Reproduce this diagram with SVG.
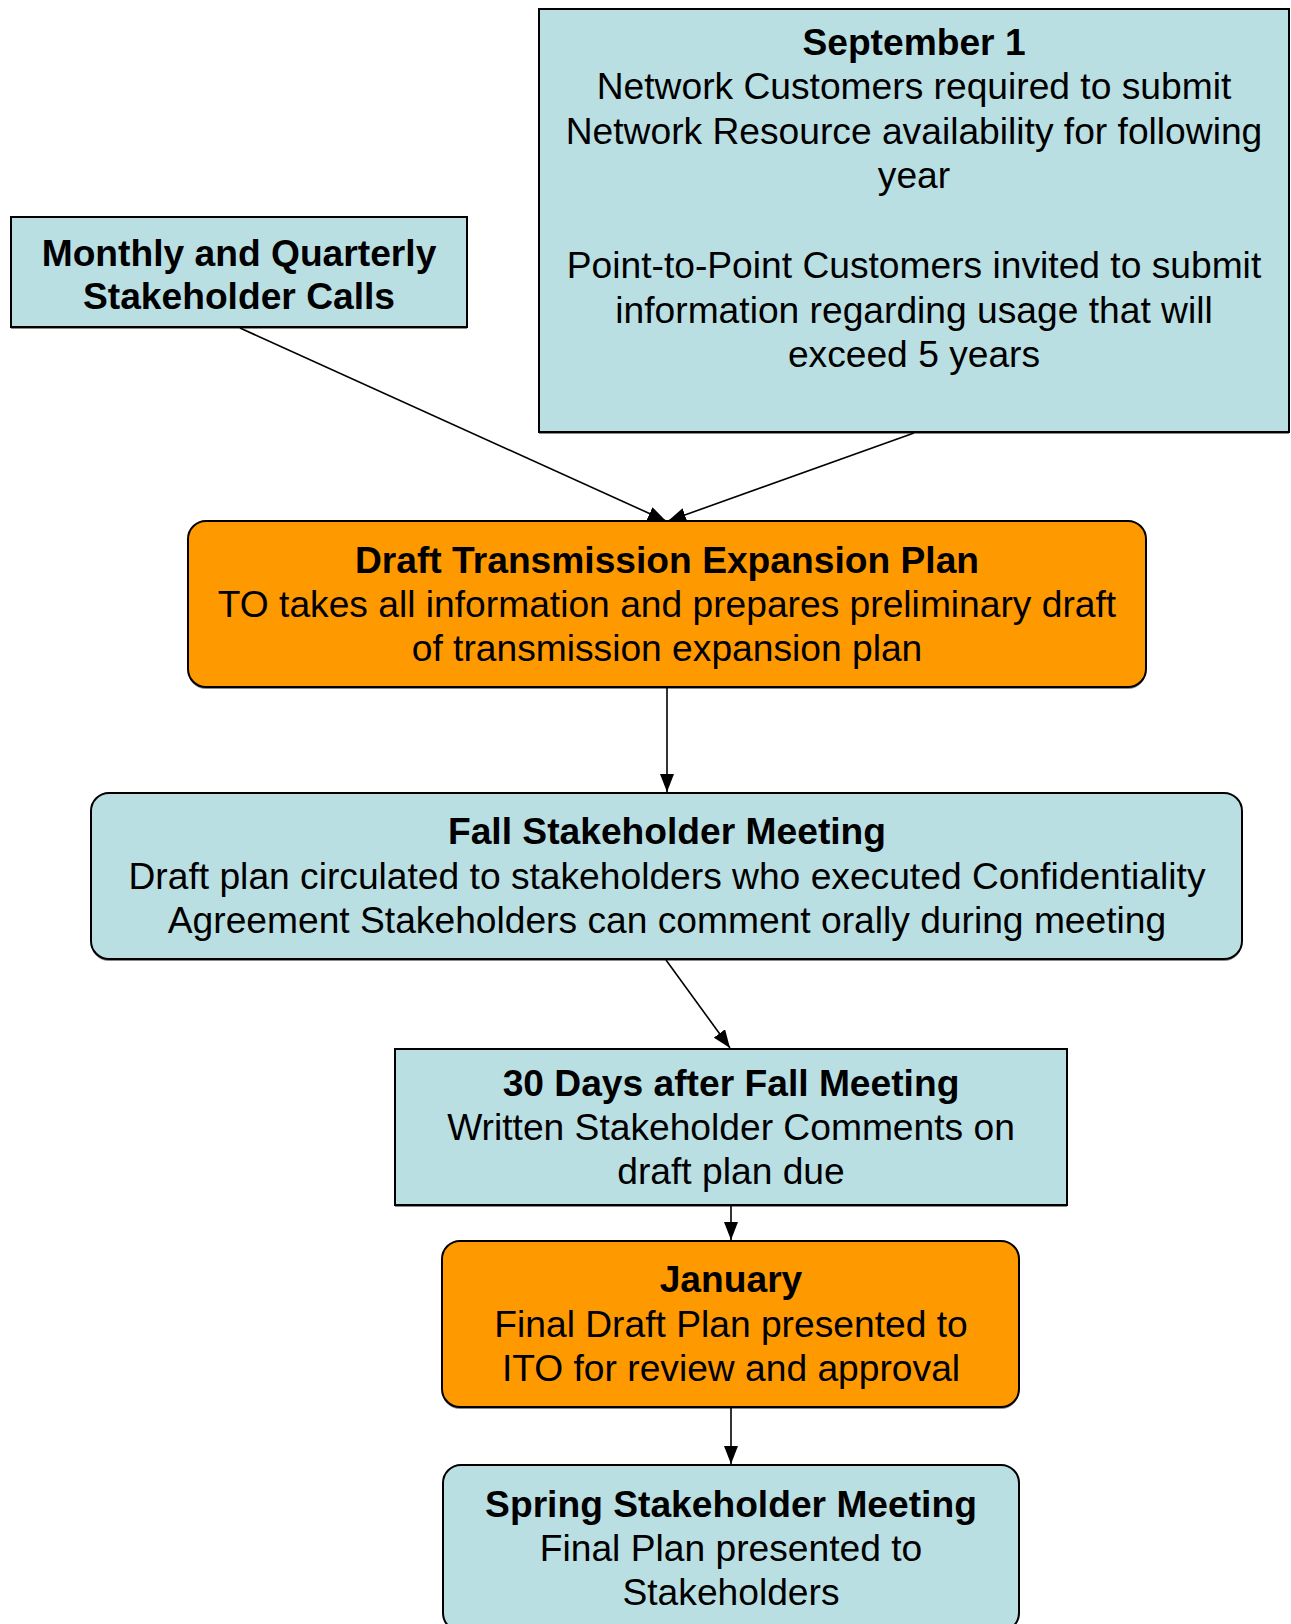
<svg xmlns="http://www.w3.org/2000/svg" width="1291" height="1624" viewBox="0 0 1291 1624">
  <style>
    .blue { fill: #BADFE3; stroke: #000; stroke-width: 2; }
    .orange { fill: #FF9900; stroke: #000; stroke-width: 2; }
    .shadow { fill: #8a8a8a; stroke: none; }
    text { font-family: "Liberation Sans", Arial, sans-serif; font-size: 37.2px; fill: #000; text-anchor: middle; }
    .b { font-weight: bold; }
    .conn { stroke: #000; stroke-width: 1.6; fill: none; marker-end: url(#arrow); }
  </style>
  <defs>
    <marker id="arrow" viewBox="0 0 18 14" refX="18" refY="7" markerWidth="18" markerHeight="14" markerUnits="userSpaceOnUse" orient="auto">
      <path d="M0,0 L18,7 L0,14 Z" fill="#000"/>
    </marker>
  </defs>
  <rect width="1291" height="1624" fill="#fff"/>

  <g id="node-monthly">
    <rect class="shadow" x="11" y="219" width="456" height="110"/>
    <rect class="blue" x="11" y="217" width="456" height="110"/>
    <text class="b" x="239" y="266">Monthly and Quarterly</text>
    <text class="b" x="239" y="309">Stakeholder Calls</text>
  </g>

  <g id="node-september">
    <rect class="shadow" x="539" y="11" width="750" height="423"/>
    <rect class="blue" x="539" y="9" width="750" height="423"/>
    <text class="b" x="914" y="55">September 1</text>
    <text x="914" y="99">Network Customers required to submit</text>
    <text x="914" y="144">Network Resource availability for following</text>
    <text x="914" y="188">year</text>
    <text x="914" y="278">Point-to-Point Customers invited to submit</text>
    <text x="914" y="323">information regarding usage that will</text>
    <text x="914" y="367">exceed 5 years</text>
  </g>

  <g id="node-draft">
    <rect class="shadow" x="188" y="523" width="958" height="166" rx="18"/>
    <rect class="orange" x="188" y="521" width="958" height="166" rx="18"/>
    <text class="b" x="667" y="573">Draft Transmission Expansion Plan</text>
    <text x="667" y="617">TO takes all information and prepares preliminary draft</text>
    <text x="667" y="661">of transmission expansion plan</text>
  </g>

  <g id="node-fall">
    <rect class="shadow" x="91" y="795" width="1151" height="166" rx="18"/>
    <rect class="blue" x="91" y="793" width="1151" height="166" rx="18"/>
    <text class="b" x="667" y="844">Fall Stakeholder Meeting</text>
    <text x="667" y="889">Draft plan circulated to stakeholders who executed Confidentiality</text>
    <text x="667" y="933">Agreement Stakeholders can comment orally during meeting</text>
  </g>

  <g id="node-30days">
    <rect class="shadow" x="395" y="1051" width="672" height="156"/>
    <rect class="blue" x="395" y="1049" width="672" height="156"/>
    <text class="b" x="731" y="1096">30 Days after Fall Meeting</text>
    <text x="731" y="1140">Written Stakeholder Comments on</text>
    <text x="731" y="1184">draft plan due</text>
  </g>

  <g id="node-january">
    <rect class="shadow" x="442" y="1243" width="577" height="166" rx="18"/>
    <rect class="orange" x="442" y="1241" width="577" height="166" rx="18"/>
    <text class="b" x="731" y="1292">January</text>
    <text x="731" y="1337">Final Draft Plan presented to</text>
    <text x="731" y="1381">ITO for review and approval</text>
  </g>

  <g id="node-spring">
    <rect class="blue" x="443" y="1465" width="576" height="166" rx="18"/>
    <text class="b" x="731" y="1517">Spring Stakeholder Meeting</text>
    <text x="731" y="1561">Final Plan presented to</text>
    <text x="731" y="1605">Stakeholders</text>
  </g>

  <g id="connectors">
    <line class="conn" x1="240" y1="328" x2="666" y2="521"/>
    <line class="conn" x1="914" y1="433" x2="668" y2="521"/>
    <line class="conn" x1="667" y1="688" x2="667" y2="792"/>
    <line class="conn" x1="666" y1="960" x2="730" y2="1048"/>
    <line class="conn" x1="731" y1="1206" x2="731" y2="1240"/>
    <line class="conn" x1="731" y1="1408" x2="731" y2="1464"/>
  </g>
</svg>
